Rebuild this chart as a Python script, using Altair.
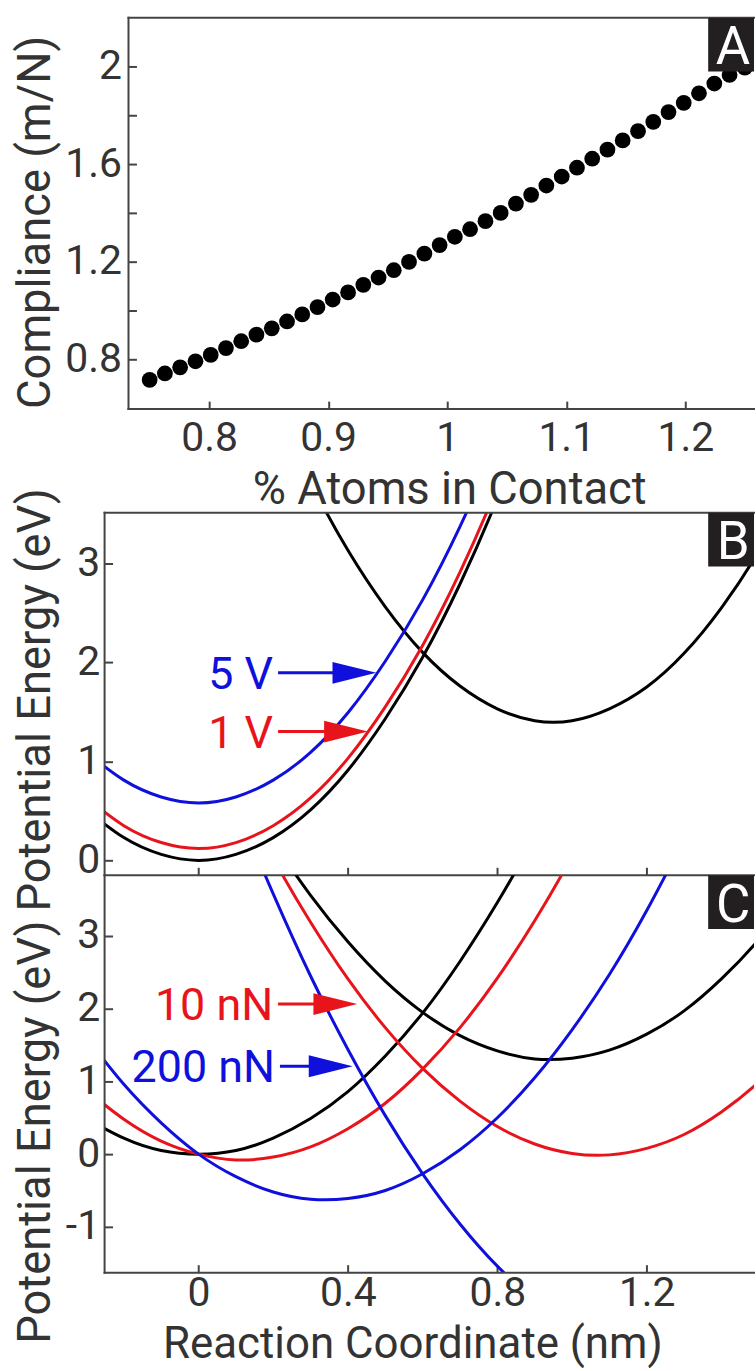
import altair as alt
import pandas as pd

FONT = "Roboto"
TXT = "#333333"
AX = "#444444"
RED = "#e8141c"
BLUE = "#1010dc"
BLACK = "#000000"
BOX = "#231f20"

# ---------------- Panel A data ----------------
a_x = [0.7500, 0.7628, 0.7756, 0.7885, 0.8013, 0.8141, 0.8269, 0.8397, 0.8526, 0.8654,
       0.8782, 0.8910, 0.9038, 0.9167, 0.9295, 0.9423, 0.9551, 0.9679, 0.9808, 0.9936,
       1.0064, 1.0192, 1.0321, 1.0449, 1.0577, 1.0705, 1.0833, 1.0962, 1.1090, 1.1218,
       1.1346, 1.1474, 1.1603, 1.1731, 1.1859, 1.1987, 1.2115, 1.2244, 1.2372, 1.2500]
a_y = [0.716, 0.742, 0.767, 0.792, 0.818, 0.846, 0.874, 0.901, 0.927, 0.955,
       0.984, 1.014, 1.045, 1.074, 1.105, 1.135, 1.165, 1.199, 1.233, 1.268,
       1.302, 1.333, 1.366, 1.400, 1.438, 1.474, 1.512, 1.549, 1.585, 1.622,
       1.659, 1.697, 1.735, 1.773, 1.813, 1.851, 1.890, 1.930, 1.965, 1.995]
a_xticks = [0.8, 0.9, 1.0, 1.1, 1.2]
a_yticks = [0.8, 1.0, 1.2, 1.4, 1.6, 1.8, 2.0]

# ---------------- Panel B data ----------------
b_x_left = [-0.3, -0.2, -0.1, 0.0, 0.1, 0.2, 0.3, 0.4, 0.5, 0.6, 0.7, 0.8, 0.9]
b_black_left = [0.51, 0.23, 0.06, 0.00, 0.06, 0.23, 0.51, 0.91, 1.43, 2.05, 2.79, 3.65, 4.62]
b_red_left = [0.63, 0.35, 0.18, 0.12, 0.18, 0.35, 0.63, 1.03, 1.55, 2.17, 2.91, 3.77, 4.74]
b_blue_left = [1.09, 0.81, 0.64, 0.58, 0.64, 0.81, 1.09, 1.49, 2.01, 2.63, 3.37, 4.23, 5.20]
b_x_right = [0.2, 0.3, 0.4, 0.5, 0.6, 0.7, 0.8, 0.9, 1.0, 1.1, 1.2, 1.3, 1.4, 1.5, 1.6]
b_black_right = [4.61, 3.82, 3.13, 2.56, 2.10, 1.76, 1.53, 1.41, 1.41, 1.53, 1.75, 2.09, 2.55, 3.12, 3.80]
b_labels = ["5 V", "1 V"]
b_label_y = [1.893, 1.30]
b_arrow_start = [0.213, 0.213]
b_arrow_tip = [0.476, 0.4536]

# ---------------- Panel C data ----------------
c_x_black_left = [-0.3, -0.2, -0.1, 0.0, 0.1, 0.2, 0.3, 0.4, 0.5, 0.6, 0.7, 0.8, 0.9, 1.0]
c_black_left = [0.49, 0.22, 0.05, 0.00, 0.05, 0.22, 0.49, 0.86, 1.35, 1.94, 2.65, 3.46, 4.37, 5.40]
c_x_red_left = [-0.3, -0.2, -0.1, 0.0, 0.1, 0.2, 0.3, 0.4, 0.5, 0.6, 0.7, 0.8, 0.9, 1.0, 1.1]
c_red_left = [0.88, 0.48, 0.18, 0.00, -0.08, -0.04, 0.10, 0.35, 0.70, 1.17, 1.74, 2.42, 3.21, 4.10, 5.11]
c_x_blue_left = [-0.3, -0.2, -0.1, 0.0, 0.1, 0.2, 0.3, 0.4, 0.5, 0.6, 0.7, 0.8, 0.9, 1.0, 1.1, 1.2, 1.3]
c_blue_left = [1.60, 0.96, 0.43, 0.00, -0.31, -0.52, -0.62, -0.61, -0.50, -0.27, 0.06, 0.50, 1.05, 1.71, 2.47, 3.35, 4.33]
c_x_right = [0.1, 0.2, 0.3, 0.4, 0.5, 0.6, 0.7, 0.8, 0.9, 1.0, 1.1, 1.2, 1.3, 1.4, 1.5, 1.6]
c_black_right = [5.17, 4.31, 3.56, 2.92, 2.38, 1.95, 1.63, 1.42, 1.31, 1.32, 1.43, 1.65, 1.97, 2.41, 2.95, 3.60]
c_red_right = [5.07, 4.07, 3.19, 2.41, 1.74, 1.18, 0.73, 0.38, 0.14, 0.01, -0.01, 0.08, 0.27, 0.58, 0.99, 1.50]
c_x_blue_right = [0.0, 0.1, 0.2, 0.3, 0.4, 0.5, 0.6, 0.7, 0.8, 0.9]
c_blue_right = [6.15, 4.81, 3.58, 2.45, 1.44, 0.53, -0.27, -0.96, -1.54, -2.02]
c_labels = ["10 nN", "200 nN"]
c_label_y = [2.064, 1.21]
c_arrow_start = [0.213, 0.218]
c_arrow_tip = [0.425, 0.4125]

rc_xticks = [0.0, 0.4, 0.8, 1.2]
b_yticks = [0, 1, 2, 3]
c_yticks = [-1, 0, 1, 2, 3]

# ---------------- geometry ----------------
W = 652
HA, HB, HC = 393, 364, 399
A_SHIFT = 24  # panel A frame starts 24 px right of panels B/C
TITLE_FS = 45.5
LABEL_FS = 41

xsA = alt.Scale(domain=[0.71213, 1.25774], nice=False, zero=False)
ysA = alt.Scale(domain=[0.596, 2.2], nice=False, zero=False)
xsRC = alt.Scale(domain=[-0.2515, 1.4872], nice=False, zero=False)
ysB = alt.Scale(domain=[-0.15, 3.51], nice=False, zero=False)
ysC = alt.Scale(domain=[-1.63, 3.836], nice=False, zero=False)

dummy = pd.DataFrame({"k": [0]})


def axis_style(label_size=LABEL_FS, title_size=TITLE_FS):
    return dict(
        domain=False, grid=False, tickSize=8, tickWidth=2, tickColor=AX,
        labelFont=FONT, labelFontSize=label_size, labelColor=TXT, labelOverlap=False,
        labelFlush=False, titleFont=FONT, titleFontSize=title_size, titleColor=TXT,
        titleFontWeight="normal", titleBaseline="alphabetic", titleAlign="center",
    )


def frame(sides, x0, w, h):
    layers = []
    if "left" in sides:
        layers.append(alt.Chart(dummy).mark_rule(color=AX, strokeWidth=2, strokeCap="square").encode(
            x=alt.value(x0), y=alt.value(0), y2=alt.value(h)))
    if "top" in sides:
        layers.append(alt.Chart(dummy).mark_rule(color=AX, strokeWidth=2, strokeCap="square").encode(
            x=alt.value(x0), x2=alt.value(w), y=alt.value(0)))
    if "bottom" in sides:
        layers.append(alt.Chart(dummy).mark_rule(color=AX, strokeWidth=2, strokeCap="square").encode(
            x=alt.value(x0), x2=alt.value(w), y=alt.value(h)))
    return layers


def letter(ch):
    box = alt.Chart(dummy).mark_rect(color=BOX).encode(
        x=alt.value(W - 46), x2=alt.value(W), y=alt.value(0), y2=alt.value(54))
    txt = alt.Chart(dummy).mark_text(text=ch, color="white", font=FONT, fontSize=53,
                                     align="center", baseline="alphabetic").encode(
        x=alt.value(W - 21), y=alt.value(47))
    return [box, txt]


def curve(xs, ys, color, xsc, ysc, xaxis, yaxis):
    df = pd.DataFrame({"x": xs, "y": ys})
    return alt.Chart(df).mark_line(color=color, strokeWidth=3, clip=True, interpolate="natural").encode(
        x=alt.X("x:Q", scale=xsc, axis=xaxis),
        y=alt.Y("y:Q", scale=ysc, axis=yaxis),
    )


def arrows(labels, ys, starts, tips, colors, xsc, ysc):
    layers = []
    for lab, yv, s, t, col in zip(labels, ys, starts, tips, colors):
        df = pd.DataFrame({"label": [lab], "y": [yv], "x0": [s], "x1": [t]})
        base = alt.Chart(df)
        layers.append(base.mark_rule(color=col, strokeWidth=3, x2Offset=-22).encode(
            x=alt.X("x0:Q", scale=xsc), x2="x1:Q", y=alt.Y("y:Q", scale=ysc)))
        layers.append(base.mark_point(shape="M-1,-0.5L1,0L-1,0.5Z", size=1936, filled=True,
                                      color=col, opacity=1, strokeWidth=0, xOffset=-22).encode(
            x=alt.X("x1:Q", scale=xsc), y=alt.Y("y:Q", scale=ysc)))
        layers.append(base.mark_text(color=col, font=FONT, fontSize=45, align="right",
                                     baseline="alphabetic", dx=-5, dy=16).encode(
            x=alt.X("x0:Q", scale=xsc), y=alt.Y("y:Q", scale=ysc), text="label:N"))
    return layers


# ---------------- Panel A ----------------
axA_x = alt.Axis(values=a_xticks, format="~g", offset=-8, labelPadding=10,
                 title="% Atoms in Contact", titleX=346, titleY=103, **axis_style())
axA_y = alt.Axis(values=a_yticks, offset=-(A_SHIFT + 8), labelPadding=7,
                 labelExpr="round(datum.value*10) % 4 == 0 ? format(datum.value, '~g') : ''",
                 title="Compliance (m/N)", titleX=-87, titleY=205, titleAngle=270, **axis_style())

dfA = pd.DataFrame({"x": a_x, "y": a_y})
dots = alt.Chart(dfA).mark_circle(size=250, color=BLACK, opacity=1).encode(
    x=alt.X("x:Q", scale=xsA, axis=axA_x),
    y=alt.Y("y:Q", scale=ysA, axis=axA_y),
)
panelA = alt.layer(dots, *frame(["left", "top", "bottom"], A_SHIFT, W, HA), *letter("A")).properties(
    width=W, height=HA)

# ---------------- Panel B ----------------
axB_x = alt.Axis(values=rc_xticks, labels=False, offset=-8, title=None, **axis_style())
axB_y = alt.Axis(values=b_yticks, format="~g", offset=-8, labelPadding=5,
                 title="Potential Energy (eV)", titleX=-63, titleY=187.5, titleAngle=270, **axis_style())

b_curves = [
    curve(b_x_left, b_black_left, BLACK, xsRC, ysB, axB_x, axB_y),
    curve(b_x_right, b_black_right, BLACK, xsRC, ysB, axB_x, axB_y),
    curve(b_x_left, b_red_left, RED, xsRC, ysB, axB_x, axB_y),
    curve(b_x_left, b_blue_left, BLUE, xsRC, ysB, axB_x, axB_y),
]
panelB = alt.layer(*b_curves,
                   *arrows(b_labels, b_label_y, b_arrow_start, b_arrow_tip, [BLUE, RED], xsRC, ysB),
                   *frame(["left", "top", "bottom"], 0, W, HB), *letter("B")).properties(width=W, height=HB)

# ---------------- Panel C ----------------
axC_x = alt.Axis(values=rc_xticks, format="~g", offset=-8, labelPadding=1,
                 title="Reaction Coordinate (nm)", titleX=309, titleY=93,
                 **axis_style(title_size=44))
axC_y = alt.Axis(values=c_yticks, offset=-8, labelPadding=5,
                 labelExpr="datum.value < 0 ? '-' + format(-datum.value, '~g') : format(datum.value, '~g')",
                 title="Potential Energy (eV)", titleX=-63, titleY=257.5, titleAngle=270, **axis_style())

c_curves = [
    curve(c_x_black_left, c_black_left, BLACK, xsRC, ysC, axC_x, axC_y),
    curve(c_x_right, c_black_right, BLACK, xsRC, ysC, axC_x, axC_y),
    curve(c_x_red_left, c_red_left, RED, xsRC, ysC, axC_x, axC_y),
    curve(c_x_right, c_red_right, RED, xsRC, ysC, axC_x, axC_y),
    curve(c_x_blue_left, c_blue_left, BLUE, xsRC, ysC, axC_x, axC_y),
    curve(c_x_blue_right, c_blue_right, BLUE, xsRC, ysC, axC_x, axC_y),
]
panelC = alt.layer(*c_curves,
                   *arrows(c_labels, c_label_y, c_arrow_start, c_arrow_tip, [RED, BLUE], xsRC, ysC),
                   *frame(["left", "bottom"], 0, W, HC), *letter("C")).properties(width=W, height=HC)

inner = alt.vconcat(panelB, panelC, spacing=0, bounds="flush")
chart = alt.vconcat(panelA, inner, spacing=104, bounds="flush").properties(
    padding={"left": 13, "top": 13, "right": 0, "bottom": 0}
).configure(font=FONT, view=alt.ViewConfig(strokeWidth=0, stroke="transparent"))

chart.save("out.html", embed_options={"renderer": "svg", "actions": False})
